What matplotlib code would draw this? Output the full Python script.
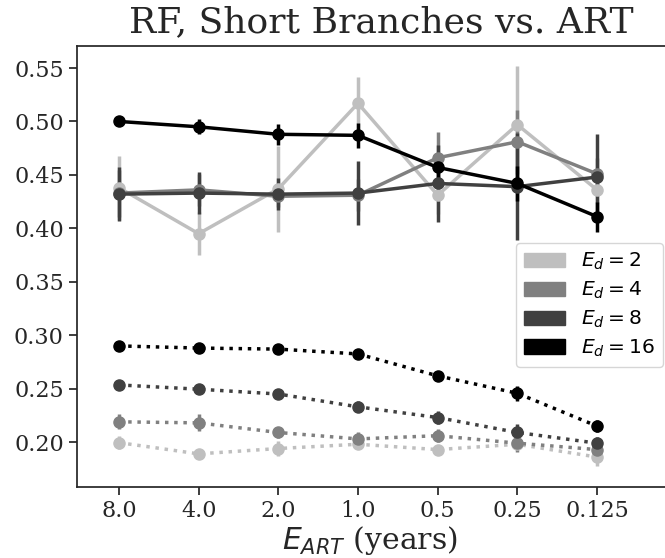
import matplotlib
matplotlib.use("Agg")
import matplotlib.pyplot as plt
from matplotlib.patches import Patch
import numpy as np

plt.rcParams['font.family'] = 'serif'
plt.rcParams['font.serif'] = ['DejaVu Serif']
plt.rcParams['mathtext.fontset'] = 'dejavusans'

# x categories (years)
e_art = ["8.0", "4.0", "2.0", "1.0", "0.5", "0.25", "0.125"]
e_d = [2, 4, 8, 16]
colors = ["#bfbfbf", "#808080", "#404040", "#000000"]

# solid lines (upper group)
solid = {
    2:  [0.438, 0.395, 0.437, 0.517, 0.431, 0.497, 0.436],
    4:  [0.433, 0.436, 0.430, 0.431, 0.466, 0.481, 0.451],
    8:  [0.432, 0.433, 0.432, 0.433, 0.442, 0.439, 0.448],
    16: [0.500, 0.495, 0.488, 0.487, 0.457, 0.442, 0.411],
}
solid_err = {
    2:  [0.030, 0.020, 0.040, 0.025, 0.018, 0.055, 0.012],
    4:  [0.022, 0.015, 0.010, 0.015, 0.024, 0.030, 0.015],
    8:  [0.025, 0.020, 0.015, 0.030, 0.036, 0.050, 0.040],
    16: [0.004, 0.007, 0.010, 0.012, 0.012, 0.016, 0.014],
}

# dotted lines (lower group)
dotted = {
    2:  [0.1995, 0.189, 0.194, 0.198, 0.193, 0.198, 0.186],
    4:  [0.219, 0.218, 0.209, 0.203, 0.206, 0.199, 0.193],
    8:  [0.2535, 0.2495, 0.245, 0.233, 0.223, 0.209, 0.199],
    16: [0.290, 0.288, 0.287, 0.2825, 0.262, 0.2457, 0.215],
}
dotted_err = {
    2:  [0.006, 0.004, 0.007, 0.004, 0.004, 0.004, 0.008],
    4:  [0.007, 0.008, 0.005, 0.006, 0.006, 0.008, 0.006],
    8:  [0.004, 0.004, 0.003, 0.005, 0.006, 0.008, 0.006],
    16: [0.003, 0.003, 0.003, 0.003, 0.003, 0.007, 0.006],
}

fig = plt.figure(figsize=(6.65, 5.58), dpi=100)
ax = fig.add_axes([77/665, 71/558, (668-77)/665, (487-46)/558])

x = np.arange(len(e_art))
for d, c in zip(e_d, colors):
    ax.errorbar(x, solid[d], yerr=solid_err[d], color=c, lw=2.5, ls='-',
                marker='o', ms=8, elinewidth=2.5, capsize=0)
for d, c in zip(e_d, colors):
    ax.errorbar(x, dotted[d], yerr=dotted_err[d], color=c, lw=2.5, ls=':',
                marker='o', ms=8, elinewidth=2.5, capsize=0)

ax.set_xticks(x)
ax.set_xticklabels(e_art)
ax.set_xlim(-0.527, 6 + (668-597)/79.67)
ax.set_ylim(0.158, 0.5706)
ax.set_yticks([0.20, 0.25, 0.30, 0.35, 0.40, 0.45, 0.50, 0.55])
ax.tick_params(labelsize=16, length=6, width=1.25, color='#262626', labelcolor='#262626')
for s in ax.spines.values():
    s.set_color('#262626')
    s.set_linewidth(1.25)

ax.set_xlabel(r"$E_{ART}$ (years)", fontsize=21.5, color='#262626')
ax.xaxis.set_label_coords((370-77)/(668-77), -0.084)
fig.text(381/665, 1-22/558, "RF, Short Branches vs. ART", fontsize=26,
         ha='center', va='center', color='#262626')

handles = [Patch(color=c, label=r"$E_d = %d$" % d) for d, c in zip(e_d, colors)]
fig.legend(handles=handles, loc='upper right', bbox_to_anchor=(663/665, 1-243/558),
           fontsize=14.6, frameon=True, borderaxespad=0, labelspacing=0.37)

fig.savefig("out.png", dpi=100)
